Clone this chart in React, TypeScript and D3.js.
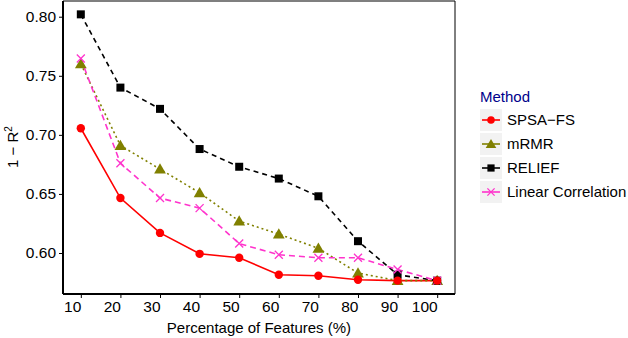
import React, { useEffect, useRef } from 'react';
import * as d3 from 'd3';

const features = [10, 20, 30, 40, 50, 60, 70, 80, 90, 100];
const spsaFs = [0.7056, 0.6465, 0.617, 0.5993, 0.596, 0.5816, 0.5808, 0.5774, 0.5766, 0.5766];
const mrmr = [0.760, 0.691, 0.671, 0.651, 0.627, 0.616, 0.604, 0.583, 0.5766, 0.5766];
const relief = [0.802, 0.740, 0.722, 0.688, 0.673, 0.663, 0.648, 0.610, 0.5816, 0.5766];
const linearCorr = [0.7646, 0.676, 0.6465, 0.638, 0.608, 0.5985, 0.596, 0.596, 0.586, 0.5766];
const yTicks = [0.6, 0.65, 0.7, 0.75, 0.8];
const methods = ['SPSA\u2212FS', 'mRMR', 'RELIEF', 'Linear Correlation'];

const series = [
  { name: methods[0], values: spsaFs, color: '#ff0000', dash: null, shape: 'circle' },
  { name: methods[1], values: mrmr, color: '#808000', dash: '2,3', shape: 'triangle' },
  { name: methods[2], values: relief, color: '#000000', dash: '5,4', shape: 'square' },
  { name: methods[3], values: linearCorr, color: '#ff33cc', dash: '6,4', shape: 'cross' },
];

const App = () => {
  const ref = useRef<SVGSVGElement>(null);

  useEffect(() => {
    if (!ref.current) return;
    const svg = d3.select(ref.current);
    svg.selectAll('*').remove();

    const left = 63, right = 455, top = 1, bottom = 294;
    const font = 'Liberation Sans, Arial, sans-serif';

    const x = d3.scaleLinear().domain([5.5, 104.5]).range([left, right]);
    const y = d3.scaleLinear().domain([0.5653, 0.8133]).range([bottom, top]);

    svg.append('rect').attr('width', 628).attr('height', 338).attr('fill', '#fff');

    // panel border: top gray, right thin black
    svg.append('line').attr('x1', left).attr('x2', right).attr('y1', top).attr('y2', top)
      .attr('stroke', '#7f7f7f').attr('stroke-width', 2);
    svg.append('line').attr('x1', right).attr('x2', right).attr('y1', top).attr('y2', bottom)
      .attr('stroke', '#000').attr('stroke-width', 1);

    const xAxis = svg.append('g').attr('transform', `translate(0,${bottom})`)
      .call(d3.axisBottom(x).tickValues(features).tickSize(4).tickPadding(3).tickFormat(d3.format('d')));
    xAxis.select('.domain').attr('stroke-width', 2).attr('d', `M${left},0H${right}`);
    xAxis.selectAll('text').attr('font-size', 15.5).attr('font-family', font).attr('fill', '#000')
      .attr('text-anchor', 'end').attr('dx', 0);

    const yAxis = svg.append('g').attr('transform', `translate(${left},0)`)
      .call(d3.axisLeft(y).tickValues(yTicks).tickSize(4).tickPadding(3).tickFormat(d3.format('.2f')));
    yAxis.select('.domain').attr('stroke-width', 2).attr('d', `M0,${top}V${bottom}`);
    yAxis.selectAll('text').attr('font-size', 15.5).attr('font-family', font).attr('fill', '#000');

    svg.append('text').attr('x', 259).attr('y', 333)
      .attr('text-anchor', 'middle').attr('font-size', 15).attr('font-family', font)
      .text('Percentage of Features (%)');

    const yl = svg.append('text').attr('transform', `translate(18,147) rotate(-90)`)
      .attr('text-anchor', 'middle').attr('font-size', 15).attr('font-family', font);
    yl.append('tspan').text('1 \u2212 R');
    yl.append('tspan').attr('font-size', 10).attr('dy', -6).text('2');

    const line = d3.line<number>().x((_, i) => x(features[i])).y(d => y(d));

    const drawMarker = (g: any, shape: string, color: string, cx: number, cy: number, s: number) => {
      if (shape === 'circle') {
        g.append('circle').attr('cx', cx).attr('cy', cy).attr('r', 4.2 * s).attr('fill', color);
      } else if (shape === 'square') {
        g.append('rect').attr('x', cx - 4 * s).attr('y', cy - 4 * s).attr('width', 8 * s).attr('height', 8 * s).attr('fill', color);
      } else if (shape === 'triangle') {
        g.append('path').attr('d', d3.symbol(d3.symbolTriangle, 60 * s * s)()).attr('transform', `translate(${cx},${cy + 1})`).attr('fill', color);
      } else {
        const r = 4 * s;
        g.append('path').attr('d', `M${cx - r},${cy - r}L${cx + r},${cy + r}M${cx - r},${cy + r}L${cx + r},${cy - r}`)
          .attr('stroke', color).attr('stroke-width', 1.3).attr('fill', 'none');
      }
    };

    series.forEach(s => {
      svg.append('path').datum(s.values).attr('d', line).attr('fill', 'none')
        .attr('stroke', s.color).attr('stroke-width', 1.6)
        .attr('stroke-dasharray', s.dash);
    });
    // red markers sit on top in the reference
    [series[1], series[2], series[3], series[0]].forEach(s => {
      const g = svg.append('g');
      s.values.forEach((v, i) => drawMarker(g, s.shape, s.color, x(features[i]), y(v), 1));
    });

    // legend
    const lg = svg.append('g').attr('transform', 'translate(478,0)');
    lg.append('text').attr('x', 2).attr('y', 102).attr('font-size', 15).attr('font-family', font)
      .attr('fill', '#00008b').text('Method');
    series.forEach((s, i) => {
      const cy = 120 + i * 24;
      lg.append('rect').attr('x', 2).attr('y', cy - 11).attr('width', 22).attr('height', 22).attr('fill', '#f2f2f2');
      lg.append('line').attr('x1', 4).attr('x2', 22).attr('y1', cy).attr('y2', cy)
        .attr('stroke', s.color).attr('stroke-width', 1.6);
      drawMarker(lg, s.shape, s.color, 13, cy, 0.9);
      lg.append('text').attr('x', 29).attr('y', cy + 5).attr('font-size', 15).attr('font-family', font)
        .text(s.name);
    });
  }, []);

  return (
    <svg ref={ref} width={628} height={338} style={{ position: 'absolute', left: 0, top: 0 }} />
  );
};

export default App;
